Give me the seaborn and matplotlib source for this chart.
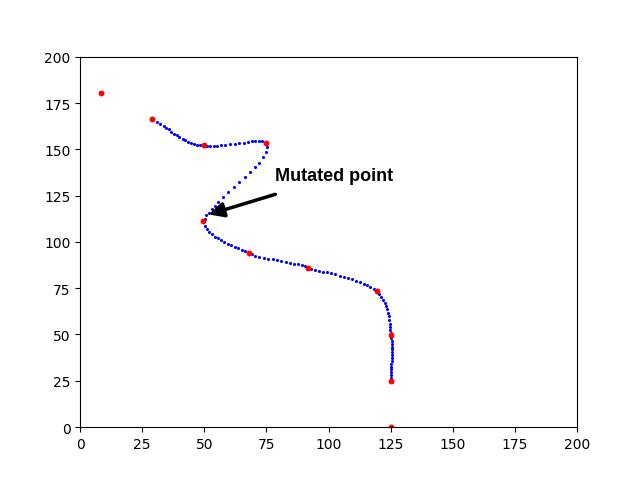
import pandas as pd
import seaborn as sns
import matplotlib.pyplot as plt

# Control points (red)
ctrl_x = [8.5, 29.0, 49.7, 74.9, 49.3, 67.9, 91.8, 119.4, 125.0, 125.0, 125.0]
ctrl_y = [180.5, 166.5, 152.2, 153.3, 111.3, 94.2, 86.0, 73.3, 49.7, 24.9, 0.0]

curve_x = [
    30.9, 32.3, 33.6, 34.6, 35.6, 36.7, 37.9, 39.0, 40.0, 41.3, 42.3, 43.4, 44.6, 45.8, 47.1, 48.4,
    51.1, 52.4, 53.8, 55.1, 56.9, 58.5, 60.5, 62.2, 64.1, 65.9, 67.6, 69.0, 70.3, 71.9, 73.3,
    75.2, 74.8, 73.8, 72.0, 70.3, 68.3, 66.3, 64.1, 62.1, 59.6, 57.5, 55.5, 54.2, 53.1, 51.7, 50.8, 50.1,
    50.1, 51.1, 52.0, 53.1, 54.2, 55.4, 56.7, 58.1, 59.4, 60.8, 62.2, 63.6, 65.2, 66.5,
    69.2, 70.6, 72.2, 73.9, 75.7, 77.5, 79.3, 81.0, 82.7, 84.3, 86.0, 87.8, 89.4, 90.7,
    93.0, 94.4, 96.1, 97.7, 99.5, 101.1, 102.8, 104.6, 106.2, 107.8, 109.6, 111.2, 112.6, 114.2, 115.6, 116.9, 118.3,
    120.3, 121.2, 122.1, 122.6, 123.1, 123.5, 123.9, 124.2, 124.5, 124.6, 124.7, 124.9, 125.0,
    125.3, 125.4, 125.5, 125.5, 125.5, 125.5, 125.5, 125.5, 125.4, 125.3, 125.2, 125.2, 125.1, 125.1, 125.1,
]
curve_y = [
    164.8, 163.5, 162.6, 161.7, 160.8, 159.5, 158.4, 157.5, 156.6, 155.5, 154.8, 154.0, 153.3, 152.9, 152.4, 152.1,
    151.8, 151.8, 151.8, 151.9, 152.1, 152.5, 152.8, 153.0, 153.4, 153.5, 154.1, 154.3, 154.5, 154.5, 154.5,
    151.0, 148.6, 145.9, 142.7, 140.2, 137.8, 135.3, 132.4, 129.7, 126.7, 124.5, 121.6, 119.4, 117.6, 115.8, 114.4, 112.2,
    108.6, 106.8, 105.5, 104.1, 102.8, 101.9, 100.8, 99.9, 99.0, 98.1, 97.2, 96.5, 95.6, 94.9,
    93.2, 92.5, 91.8, 91.2, 90.9, 90.5, 90.1, 89.6, 89.3, 88.7, 88.2, 87.8, 87.4, 86.9,
    85.5, 84.7, 84.4, 84.0, 83.5, 83.1, 82.5, 81.8, 81.1, 80.3, 79.7, 78.9, 78.2, 77.3, 76.6, 75.7, 74.6,
    71.9, 70.3, 68.5, 67.0, 65.6, 63.8, 61.6, 59.8, 57.6, 55.8, 54.0, 52.2, 50.8,
    48.2, 46.6, 45.1, 43.5, 42.0, 40.4, 38.9, 37.3, 35.8, 34.2, 32.7, 31.1, 29.6, 28.0, 26.5,
]

label = "Mutated point"
arrow_tip = (51.8, 114.8)
arrow_tail = (78.6, 125.7)
label_pos = (78.3, 133.5)

ctrl = pd.DataFrame({"x": ctrl_x, "y": ctrl_y})
curve = pd.DataFrame({"x": curve_x, "y": curve_y})

fig, ax = plt.subplots(figsize=(6.41, 4.81), dpi=100)

sns.scatterplot(data=curve, x="x", y="y", color="blue", s=5, linewidth=0, ax=ax)
sns.scatterplot(data=ctrl, x="x", y="y", color="red", s=18, linewidth=0, ax=ax)

ax.annotate("", xy=arrow_tip, xytext=arrow_tail,
            arrowprops=dict(arrowstyle="-|>", color="black", lw=2.5, mutation_scale=22,
                            shrinkA=0, shrinkB=0))
# label font looks like Arial bold, Liberation Sans is the metric match
ax.text(label_pos[0], label_pos[1], label, fontsize=13, fontweight="bold",
        family="Liberation Sans", ha="left", va="baseline")

ax.set_xlim(0, 200)
ax.set_ylim(0, 200)
ax.set_xlabel("")
ax.set_ylabel("")

fig.subplots_adjust(left=0.125, right=0.9, bottom=0.11, top=0.88)
fig.savefig("out.png", dpi=100)
